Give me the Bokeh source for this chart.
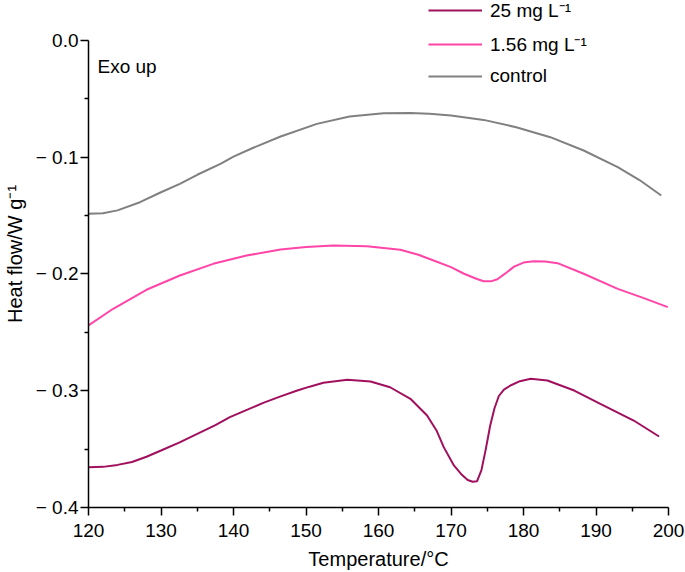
from bokeh.plotting import figure
from bokeh.models import (Range1d, FixedTicker, CustomJSTickFormatter, Legend, LegendItem, Label)
from bokeh.embed import file_html
from bokeh.resources import INLINE

# ---- data ----
t_control = [120, 122, 124, 127.1, 130, 132.6, 135, 138.2, 140, 142.5, 146.5, 151.5, 156,
             160.7, 164.4, 167, 170, 174.5, 179, 183.7, 188.3, 193, 196, 199]
v_control = [-0.1485, -0.148, -0.1455, -0.1385, -0.130, -0.1228, -0.115, -0.1056, -0.0995,
             -0.0925, -0.0822, -0.0714, -0.0651, -0.0623, -0.062, -0.0628, -0.0642, -0.068,
             -0.0743, -0.0828, -0.0942, -0.1085, -0.1195, -0.1328]

t_low = [120, 123.4, 128, 132.6, 137.2, 141.8, 146.5, 150, 153.8, 158.4, 163, 165.5, 167.6,
         170, 171.8, 173.5, 174.5, 175.5, 176.4, 177.5, 178.7, 180, 181.4, 183, 184.7, 188.3,
         193, 196.5, 199.9]
v_low = [-0.2441, -0.2298, -0.2135, -0.2013, -0.1913, -0.1842, -0.179, -0.1768, -0.1756,
         -0.1762, -0.1793, -0.1835, -0.1884, -0.1941, -0.1998, -0.2041, -0.2062, -0.2063,
         -0.2045, -0.1995, -0.1937, -0.1902, -0.189, -0.1893, -0.1907, -0.1998, -0.2127,
         -0.2205, -0.2284]

t_high = [120, 122, 124, 126, 128, 130, 132.5, 135, 137.5, 139.5, 142, 144.1, 146.5, 148.8,
          150.5, 152.4, 155.7, 158.9, 161.6, 164.4, 166.7, 168, 169, 170.4, 171.5, 172.3,
          173.0, 173.6, 174.2, 174.8, 175.4, 176.0, 176.6, 177.3, 178.2, 179.5, 181, 183.3,
          187, 190.6, 195.2, 198.7]
v_high = [-0.3655, -0.3652, -0.3635, -0.361, -0.3565, -0.3512, -0.3445, -0.3369, -0.3294,
          -0.3226, -0.316, -0.3104, -0.3048, -0.2998, -0.2965, -0.2932, -0.2906, -0.2921,
          -0.297, -0.3069, -0.3212, -0.334, -0.3483, -0.364, -0.372, -0.3765, -0.378,
          -0.3775, -0.368, -0.350, -0.330, -0.315, -0.3045, -0.299, -0.2955, -0.2918,
          -0.2898, -0.2912, -0.2998, -0.3112, -0.3255, -0.3392]

series_labels = ["25 mg L\u207b\u00b9", "1.56 mg L\u207b\u00b9", "control"]
series_colors = ["#A0105E", "#FF45A8", "#808080"]

x_ticks = [120, 130, 140, 150, 160, 170, 180, 190, 200]
x_minor = [125, 135, 145, 155, 165, 175, 185, 195]
y_ticks = [-0.4, -0.3, -0.2, -0.1, 0.0]
y_minor = [-0.35, -0.25, -0.15, -0.05]

FONT = "Liberation Sans"

p = figure(width=685, height=572, output_backend="svg", toolbar_location=None,
           x_range=Range1d(120, 200), y_range=Range1d(-0.4, 0.03426),
           min_border_left=88, min_border_right=17, min_border_top=0, min_border_bottom=65)
p.outline_line_color = None
p.grid.visible = False
p.background_fill_color = "white"

r_high = p.line(t_high, v_high, line_color=series_colors[0], line_width=2)
r_low = p.line(t_low, v_low, line_color=series_colors[1], line_width=2)
r_ctrl = p.line(t_control, v_control, line_color=series_colors[2], line_width=2)

for ax in (p.xaxis[0], p.yaxis[0]):
    ax.axis_line_width = 1.5
    ax.axis_line_color = "black"
    ax.major_tick_line_width = 1.5
    ax.minor_tick_line_width = 1.5
    ax.major_tick_out = 8
    ax.major_tick_in = 0
    ax.minor_tick_out = 4
    ax.minor_tick_in = 0
    ax.major_label_text_font = FONT
    ax.major_label_text_font_size = "19px"
    ax.major_label_text_color = "black"
    ax.axis_label_text_font = FONT
    ax.axis_label_text_font_size = "20px"
    ax.axis_label_text_font_style = "normal"
    ax.axis_label_text_color = "black"

p.xaxis.ticker = FixedTicker(ticks=x_ticks, minor_ticks=x_minor)
p.xaxis.bounds = (120, 200)
p.xaxis.axis_label = "Temperature/\u00b0C"
p.xaxis.major_label_standoff = 8
p.xaxis.axis_label_standoff = 8

p.yaxis.ticker = FixedTicker(ticks=y_ticks, minor_ticks=y_minor)
p.yaxis.bounds = (-0.4, 0.0)
p.yaxis.formatter = CustomJSTickFormatter(
    code="return Math.abs(tick) < 1e-9 ? '0.0' : '\u2212 ' + Math.abs(tick).toFixed(1);")
p.yaxis.axis_label = "Heat flow/W g\u207b\u00b9"
p.yaxis.major_label_standoff = 2
p.yaxis.axis_label_standoff = 7

p.add_layout(Label(x=120, y=0.0, x_offset=9, y_offset=-26, text="Exo up",
                   text_font=FONT, text_font_size="19px", text_color="black",
                   text_baseline="alphabetic"))

legend = Legend(items=[LegendItem(label=series_labels[0], renderers=[r_high]),
                       LegendItem(label=series_labels[1], renderers=[r_low]),
                       LegendItem(label=series_labels[2], renderers=[r_ctrl])],
                location=(340, 420), border_line_color=None, background_fill_alpha=0,
                padding=0, margin=0, spacing=8, glyph_width=54, glyph_height=20,
                label_height=20, label_standoff=8, label_text_font=FONT,
                label_text_font_size="19px", label_text_color="black")
p.add_layout(legend)

open("out.html", "w").write(file_html(p, INLINE))
